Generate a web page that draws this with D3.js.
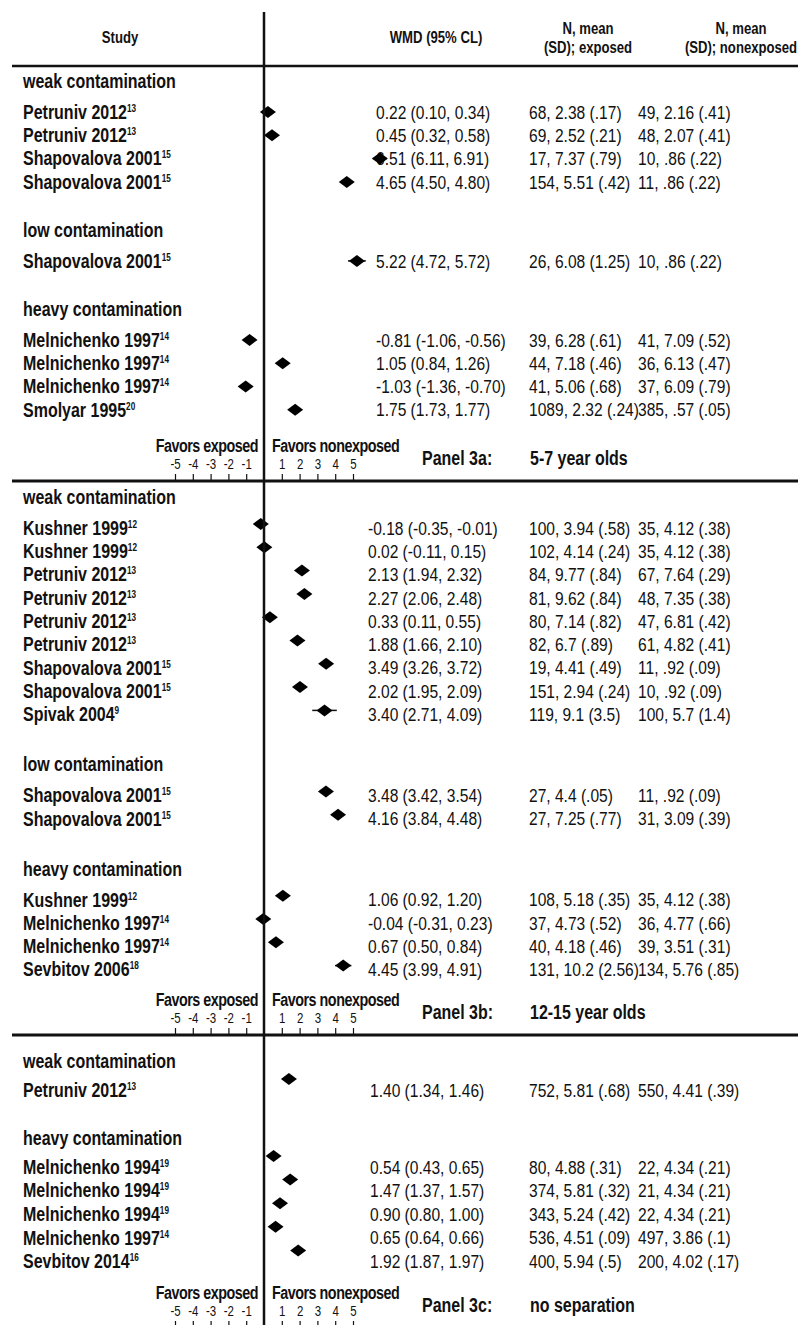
<!DOCTYPE html>
<html lang="en">
<head>
<meta charset="UTF-8">
<title>Forest plot - WMD exposed vs nonexposed</title>
<script src="https://d3js.org/d3.v7.min.js"></script>
<style>
  body { margin: 0; background: #fff; }
  text { font-family: "Liberation Sans", Arial, sans-serif; fill: #111; }
</style>
</head>
<body>
<script>
// rows: group, study, reference number, WMD, lower CL, upper CL, exposed and nonexposed summaries
const panelA = [
  { g: "weak contamination", study: "Petruniv 2012", ref: "13", wmd: 0.22, lo: 0.10, hi: 0.34, exp: "68, 2.38 (.17)", non: "49, 2.16 (.41)" },
  { g: "weak contamination", study: "Petruniv 2012", ref: "13", wmd: 0.45, lo: 0.32, hi: 0.58, exp: "69, 2.52 (.21)", non: "48, 2.07 (.41)" },
  { g: "weak contamination", study: "Shapovalova 2001", ref: "15", wmd: 6.51, lo: 6.11, hi: 6.91, exp: "17, 7.37 (.79)", non: "10, .86 (.22)" },
  { g: "weak contamination", study: "Shapovalova 2001", ref: "15", wmd: 4.65, lo: 4.50, hi: 4.80, exp: "154, 5.51 (.42)", non: "11, .86 (.22)" },
  { g: "low contamination", study: "Shapovalova 2001", ref: "15", wmd: 5.22, lo: 4.72, hi: 5.72, exp: "26, 6.08 (1.25)", non: "10, .86 (.22)" },
  { g: "heavy contamination", study: "Melnichenko 1997", ref: "14", wmd: -0.81, lo: -1.06, hi: -0.56, exp: "39, 6.28 (.61)", non: "41, 7.09 (.52)" },
  { g: "heavy contamination", study: "Melnichenko 1997", ref: "14", wmd: 1.05, lo: 0.84, hi: 1.26, exp: "44, 7.18 (.46)", non: "36, 6.13 (.47)" },
  { g: "heavy contamination", study: "Melnichenko 1997", ref: "14", wmd: -1.03, lo: -1.36, hi: -0.70, exp: "41, 5.06 (.68)", non: "37, 6.09 (.79)" },
  { g: "heavy contamination", study: "Smolyar 1995", ref: "20", wmd: 1.75, lo: 1.73, hi: 1.77, exp: "1089, 2.32 (.24)", non: "385, .57 (.05)" }
];

const panelB = [
  { g: "weak contamination", study: "Kushner 1999", ref: "12", wmd: -0.18, lo: -0.35, hi: -0.01, exp: "100, 3.94 (.58)", non: "35, 4.12 (.38)" },
  { g: "weak contamination", study: "Kushner 1999", ref: "12", wmd: 0.02, lo: -0.11, hi: 0.15, exp: "102, 4.14 (.24)", non: "35, 4.12 (.38)" },
  { g: "weak contamination", study: "Petruniv 2012", ref: "13", wmd: 2.13, lo: 1.94, hi: 2.32, exp: "84, 9.77 (.84)", non: "67, 7.64 (.29)" },
  { g: "weak contamination", study: "Petruniv 2012", ref: "13", wmd: 2.27, lo: 2.06, hi: 2.48, exp: "81, 9.62 (.84)", non: "48, 7.35 (.38)" },
  { g: "weak contamination", study: "Petruniv 2012", ref: "13", wmd: 0.33, lo: 0.11, hi: 0.55, exp: "80, 7.14 (.82)", non: "47, 6.81 (.42)" },
  { g: "weak contamination", study: "Petruniv 2012", ref: "13", wmd: 1.88, lo: 1.66, hi: 2.10, exp: "82, 6.7 (.89)", non: "61, 4.82 (.41)" },
  { g: "weak contamination", study: "Shapovalova 2001", ref: "15", wmd: 3.49, lo: 3.26, hi: 3.72, exp: "19, 4.41 (.49)", non: "11, .92 (.09)" },
  { g: "weak contamination", study: "Shapovalova 2001", ref: "15", wmd: 2.02, lo: 1.95, hi: 2.09, exp: "151, 2.94 (.24)", non: "10, .92 (.09)" },
  { g: "weak contamination", study: "Spivak 2004", ref: "9", wmd: 3.40, lo: 2.71, hi: 4.09, exp: "119, 9.1 (3.5)", non: "100, 5.7 (1.4)" },
  { g: "low contamination", study: "Shapovalova 2001", ref: "15", wmd: 3.48, lo: 3.42, hi: 3.54, exp: "27, 4.4 (.05)", non: "11, .92 (.09)" },
  { g: "low contamination", study: "Shapovalova 2001", ref: "15", wmd: 4.16, lo: 3.84, hi: 4.48, exp: "27, 7.25 (.77)", non: "31, 3.09 (.39)" },
  { g: "heavy contamination", study: "Kushner 1999", ref: "12", wmd: 1.06, lo: 0.92, hi: 1.20, exp: "108, 5.18 (.35)", non: "35, 4.12 (.38)" },
  { g: "heavy contamination", study: "Melnichenko 1997", ref: "14", wmd: -0.04, lo: -0.31, hi: 0.23, exp: "37, 4.73 (.52)", non: "36, 4.77 (.66)" },
  { g: "heavy contamination", study: "Melnichenko 1997", ref: "14", wmd: 0.67, lo: 0.50, hi: 0.84, exp: "40, 4.18 (.46)", non: "39, 3.51 (.31)" },
  { g: "heavy contamination", study: "Sevbitov 2006", ref: "18", wmd: 4.45, lo: 3.99, hi: 4.91, exp: "131, 10.2 (2.56)", non: "134, 5.76 (.85)" }
];

const panelC = [
  { g: "weak contamination", study: "Petruniv 2012", ref: "13", wmd: 1.40, lo: 1.34, hi: 1.46, exp: "752, 5.81 (.68)", non: "550, 4.41 (.39)" },
  { g: "heavy contamination", study: "Melnichenko 1994", ref: "19", wmd: 0.54, lo: 0.43, hi: 0.65, exp: "80, 4.88 (.31)", non: "22, 4.34 (.21)" },
  { g: "heavy contamination", study: "Melnichenko 1994", ref: "19", wmd: 1.47, lo: 1.37, hi: 1.57, exp: "374, 5.81 (.32)", non: "21, 4.34 (.21)" },
  { g: "heavy contamination", study: "Melnichenko 1994", ref: "19", wmd: 0.90, lo: 0.80, hi: 1.00, exp: "343, 5.24 (.42)", non: "22, 4.34 (.21)" },
  { g: "heavy contamination", study: "Melnichenko 1997", ref: "14", wmd: 0.65, lo: 0.64, hi: 0.66, exp: "536, 4.51 (.09)", non: "497, 3.86 (.1)" },
  { g: "heavy contamination", study: "Sevbitov 2014", ref: "16", wmd: 1.92, lo: 1.87, hi: 1.97, exp: "400, 5.94 (.5)", non: "200, 4.02 (.17)" }
];

const panelLabels = ["Panel 3a:", "Panel 3b:", "Panel 3c:"];
const panelDescs = ["5-7 year olds", "12-15 year olds", "no separation"];
const tickValues = [-5, -4, -3, -2, -1, 1, 2, 3, 4, 5];

const W = 798, H = 1325;
const SX = 0.82; // narrow the type like the original condensed face
const x = d3.scaleLinear().domain([-5, 5]).range([175, 353]);
const f2 = d3.format(".2f");
const fmt = v => f2(v).replace("\u2212", "-");

// layout of each panel (pixel positions)
const layout = [
  { rows: panelA, top: 81, headToRow: 31, step: 23.3, gap: 48, axisY: 481, valueX: 376, markDy: 0 },
  { rows: panelB, top: 497, headToRow: 31, step: 23.3, gap: 50, axisY: 1035, valueX: 368, markDy: -4 },
  { rows: panelC, top: 1061, headToRow: 29, step: 23.6, gap: 48, axisY: 1328, valueX: 370, markDy: -11 }
];

const col = { study: 23, exp: 529, non: 638 };

const at = (px, py) => `translate(${px},${py}) scale(${SX},1)`;

const svg = d3.select("body").append("svg")
  .attr("width", W).attr("height", H);

// column headers
const head = svg.append("g").attr("font-weight", "bold").attr("font-size", 16).attr("text-anchor", "middle");
[["Study", 120, 37], ["WMD (95% CL)", 436, 37],
 ["N, mean", 588, 28], ["(SD); exposed", 588, 47],
 ["N, mean", 741, 28], ["(SD); nonexposed", 741, 47]].forEach(h => {
  head.append("text").attr("transform", at(h[1], h[2])).attr("dy", "0.35em").text(h[0]);
});

svg.append("line").attr("x1", 12).attr("x2", W).attr("y1", 66).attr("y2", 66)
  .attr("stroke", "#111").attr("stroke-width", 2.5);

layout.forEach((p, pi) => {
  const g = svg.append("g");

  // row positions
  let y = p.top, prevGroup = null;
  const headers = [];
  p.rows.forEach(d => {
    if (d.g !== prevGroup) {
      if (prevGroup !== null) y += p.gap;
      headers.push({ name: d.g, y: y });
      y += p.headToRow;
      prevGroup = d.g;
    } else {
      y += p.step;
    }
    d.y = y;
  });

  g.selectAll(".grp").data(headers).join("text")
    .attr("class", "grp")
    .attr("transform", d => at(col.study, d.y)).attr("dy", "0.35em")
    .attr("font-size", 19.5).attr("font-weight", "bold")
    .text(d => d.name);

  const st = g.selectAll(".study").data(p.rows).join("text")
    .attr("class", "study")
    .attr("transform", d => at(col.study, d.y)).attr("dy", "0.35em")
    .attr("font-size", 19.5).attr("font-weight", "bold");
  st.append("tspan").text(d => d.study);
  st.append("tspan").attr("font-size", 10).attr("dy", -7).text(d => d.ref);

  g.selectAll(".wmd").data(p.rows).join("text")
    .attr("class", "wmd")
    .attr("transform", d => at(p.valueX, d.y)).attr("dy", "0.35em")
    .attr("font-size", 19)
    .text(d => `${fmt(d.wmd)} (${fmt(d.lo)}, ${fmt(d.hi)})`);

  g.selectAll(".exp").data(p.rows).join("text")
    .attr("class", "exp")
    .attr("transform", d => at(col.exp, d.y)).attr("dy", "0.35em")
    .attr("font-size", 19)
    .text(d => d.exp);

  g.selectAll(".non").data(p.rows).join("text")
    .attr("class", "non")
    .attr("transform", d => at(col.non, d.y)).attr("dy", "0.35em")
    .attr("font-size", 19)
    .text(d => d.non);

  // confidence intervals
  g.selectAll(".ci").data(p.rows).join("line")
    .attr("class", "ci")
    .attr("x1", d => x(d.lo)).attr("x2", d => x(d.hi))
    .attr("y1", d => d.y + p.markDy).attr("y2", d => d.y + p.markDy)
    .attr("stroke", "#111").attr("stroke-width", 1.5);

  // point estimates
  g.selectAll(".pt").data(p.rows).join("path")
    .attr("class", "pt")
    .attr("d", d => {
      const cx = x(d.wmd), cy = d.y + p.markDy, hw = 8, hh = 6;
      return `M${cx - hw},${cy}L${cx},${cy - hh}L${cx + hw},${cy}L${cx},${cy + hh}Z`;
    })
    .attr("fill", "#000");

  // axis: ticks point up from the panel rule, labels above them
  const ax = g.append("g")
    .attr("transform", `translate(0,${p.axisY})`)
    .call(d3.axisTop(x).tickValues(tickValues).tickSize(7).tickPadding(5).tickFormat(d => String(d)));
  ax.select(".domain").remove();
  ax.selectAll("line").attr("stroke", "#111").attr("stroke-width", 1.2);
  ax.selectAll("text").attr("font-size", 14).attr("fill", "#111")
    .style("font-family", "'Liberation Sans', Arial, sans-serif")
    .attr("transform", `scale(${SX},1)`);

  g.append("text").attr("transform", at(x(0) - 6, p.axisY - 35)).attr("dy", "0.35em")
    .attr("text-anchor", "end").attr("font-size", 17.5).attr("font-weight", "bold")
    .attr("letter-spacing", -0.6).text("Favors exposed");
  g.append("text").attr("transform", at(x(0) + 8, p.axisY - 35)).attr("dy", "0.35em")
    .attr("font-size", 17.5).attr("font-weight", "bold")
    .attr("letter-spacing", -0.6).text("Favors nonexposed");

  g.append("text").attr("transform", at(422, p.axisY - 23)).attr("dy", "0.35em")
    .attr("font-size", 19.5).attr("font-weight", "bold").text(panelLabels[pi]);
  g.append("text").attr("transform", at(530, p.axisY - 23)).attr("dy", "0.35em")
    .attr("font-size", 19.5).attr("font-weight", "bold").text(panelDescs[pi]);

  g.append("line").attr("x1", 12).attr("x2", W).attr("y1", p.axisY).attr("y2", p.axisY)
    .attr("stroke", "#111").attr("stroke-width", 3);
});

// zero line
svg.append("line").attr("x1", x(0)).attr("x2", x(0)).attr("y1", 12).attr("y2", H)
  .attr("stroke", "#111").attr("stroke-width", 2.5);
</script>
</body>
</html>
